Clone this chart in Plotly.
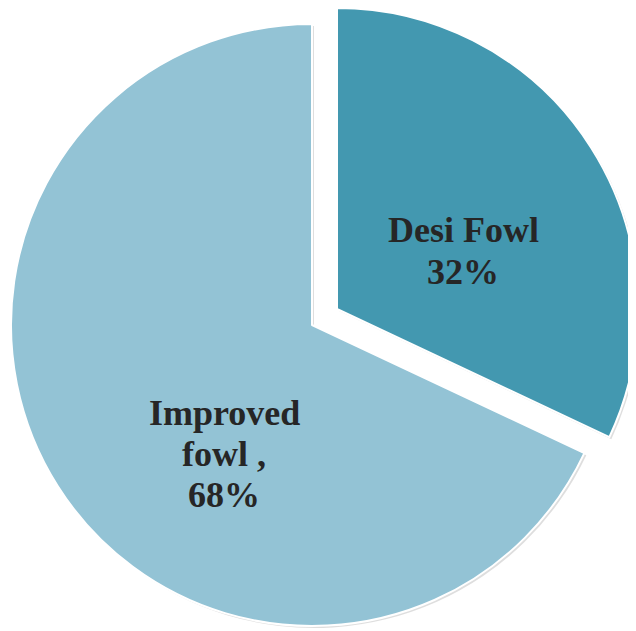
import plotly.graph_objects as go

labels = ["Desi Fowl", "Improved fowl"]
values = [32, 68]
colors = ["#4398b0", "#93c3d5"]
label_lines = [["Desi Fowl"], ["Improved", "fowl ,"]]

W, H = 636, 631
OFF = 8          # page offset of the plot div
R = 301
main_c = (312 - OFF, 325 - OFF)
pulled_c = (337 - OFF, 309 - OFF)
label_pos = [(463 - OFF, 251 - OFF), (224 - OFF, 454 - OFF)]
LINE = 41
FONT = dict(family="Liberation Serif", size=36, color="#262626", weight="bold")

def dom(c, dx=0, dy=0):
    cx, cy = c[0] + dx, c[1] + dy
    return dict(x=[(cx - R) / W, (cx + R) / W],
                y=[1 - (cy + R) / H, 1 - (cy - R) / H])

clear = "rgba(0,0,0,0)"
shadow = "rgba(0,0,0,0.13)"
fig = go.Figure()

def pie(center, cols, lines, dx=0, dy=0):
    fig.add_trace(go.Pie(
        labels=labels, values=values, sort=False, direction="clockwise", rotation=0,
        domain=dom(center, dx, dy),
        marker=dict(colors=cols, line=dict(color=lines, width=2)),
        textinfo="none", hoverinfo="skip", showlegend=False,
    ))

# soft shadows
pie(main_c, [clear, shadow], [clear, clear], 2, 2)
pie(pulled_c, [shadow, clear], [clear, clear], 2, 2)
# slices
pie(main_c, [clear, colors[1]], [clear, "white"])
pie(pulled_c, [colors[0], clear], ["white", clear])

total = sum(values)
for lines, v, (px, py) in zip(label_lines, values, label_pos):
    all_lines = lines + [f"{round(100 * v / total)}%"]
    n = len(all_lines)
    for i, line in enumerate(all_lines):
        cy = py + (i - (n - 1) / 2) * LINE
        fig.add_annotation(
            x=px / W, y=1 - cy / H, xref="paper", yref="paper",
            text=line, showarrow=False, xanchor="center", yanchor="middle",
            font=FONT,
        )

fig.update_layout(width=W, height=H, margin=dict(l=0, r=0, t=0, b=0),
                  paper_bgcolor="white", plot_bgcolor="white")
fig.write_html("out.html")
